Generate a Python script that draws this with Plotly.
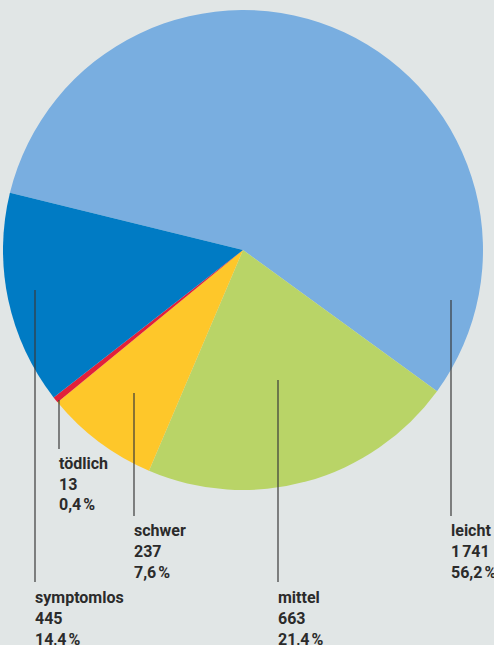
import plotly.graph_objects as go

# Data
categories = ["leicht", "mittel", "schwer", "tödlich", "symptomlos"]
values = [1741, 663, 237, 13, 445]
colors = ["#79aee0", "#b9d467", "#fec72a", "#e2203a", "#007bc4"]

W, H = 494, 645
total = sum(values)

def fmt_int(v):
    s = f"{v:,}".replace(",", "\u202f")
    return s

def fmt_pct(v):
    return f"{100 * v / total:.1f}".replace(".", ",") + "\u202f%"

fig = go.Figure(go.Pie(
    labels=categories,
    values=values,
    sort=False,
    direction="clockwise",
    rotation=-76.2,
    marker=dict(colors=colors, line=dict(width=0)),
    textinfo="none",
    hoverinfo="none",
    showlegend=False,
    domain=dict(x=[3 / W, 483 / W], y=[1 - 490 / H, 1 - 10 / H]),
))

# Label layout (pixel positions of leader lines and label text)
label_layout = {
    "leicht":     dict(x=451, y0=300, y1=516, ty=530),
    "mittel":     dict(x=278, y0=380, y1=582, ty=597),
    "schwer":     dict(x=134, y0=393, y1=516, ty=530),
    "tödlich":    dict(x=59,  y0=400, y1=449, ty=463),
    "symptomlos": dict(x=35,  y0=290, y1=582, ty=597),
}

shapes = []
annotations = []
for cat, val in zip(categories, values):
    L = label_layout[cat]
    shapes.append(dict(
        type="line", xref="paper", yref="paper",
        x0=L["x"] / W, x1=L["x"] / W,
        y0=1 - L["y0"] / H, y1=1 - L["y1"] / H,
        line=dict(color="#3a3a3a", width=1.2),
    ))
    for i, t in enumerate([cat, fmt_int(val), fmt_pct(val)]):
        annotations.append(dict(
            text=t, xref="paper", yref="paper",
            x=(L["x"] - 2) / W, y=1 - (L["ty"] + 21 * i) / H,
            xanchor="left", yanchor="middle", showarrow=False,
            font=dict(family="Roboto", size=16, color="#2b2b2b", weight="bold"),
        ))

fig.update_layout(
    width=W, height=H,
    margin=dict(l=0, r=0, t=0, b=0),
    paper_bgcolor="#e1e6e6",
    plot_bgcolor="#e1e6e6",
    shapes=shapes,
    annotations=annotations,
)

fig.write_html("out.html")
